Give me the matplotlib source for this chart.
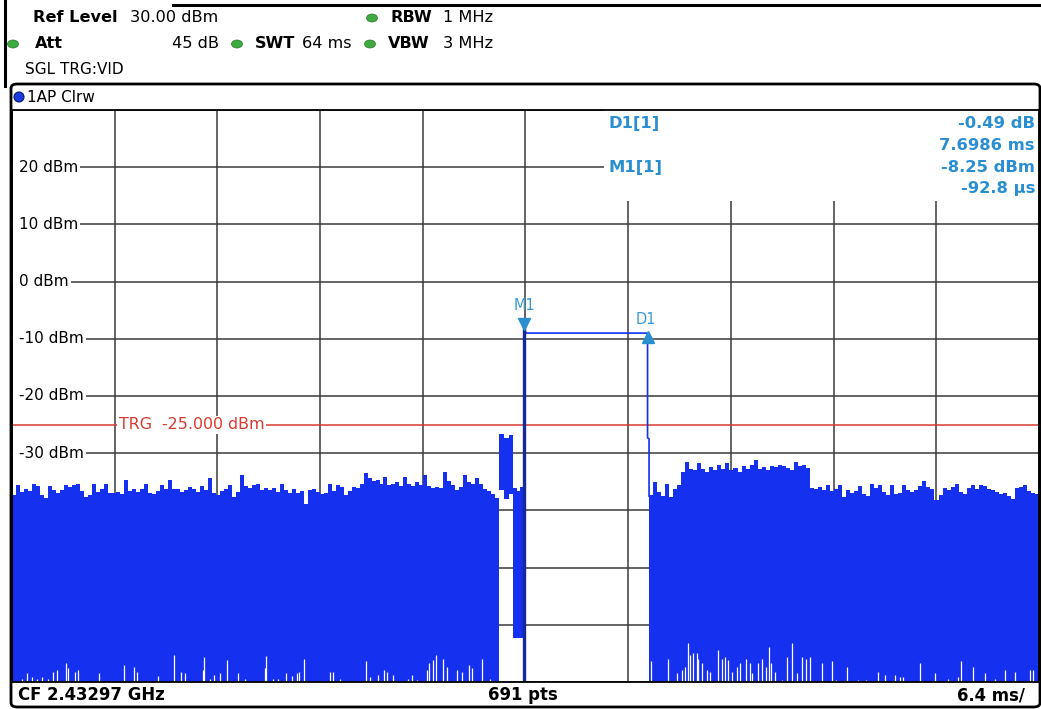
import numpy as np
import matplotlib.pyplot as plt
from matplotlib.patches import Rectangle, FancyBboxPatch, Ellipse
from matplotlib.lines import Line2D

W, H = 1041, 709

# ---- instrument settings ----
ref_level = 30.0          # dBm (top of screen)
db_per_div = 10
y_divs = 10
sweep_ms = 64.0
ms_per_div = 6.4
trg_level = -25.0

# ---- trace (peak envelope, dBm) ----
left_start, left_end = -32.0, -1.63
left_top = [
    -37.3, -35.5, -36.7, -36.2, -36.6, -35.3, -35.8, -37.3, -37.9, -35.8,
    -36.4, -36.9, -36.4, -35.6, -35.9, -35.5, -35.3, -36.6, -37.6, -37.3,
    -35.3, -36.7, -36.2, -35.4, -36.9, -37.0, -36.7, -37.1, -34.7, -36.6,
    -36.2, -36.8, -36.3, -35.3, -36.9, -37.1, -36.6, -35.5, -36.2, -34.7,
    -36.2, -36.3, -36.7, -36.5, -35.9, -36.2, -36.7, -35.8, -36.4, -34.4,
    -37.0, -37.3, -36.6, -36.2, -35.5, -37.6, -36.8, -33.8, -35.8, -36.1,
    -35.6, -35.3, -36.4, -36.1, -36.5,
    -36.1, -36.7, -35.3, -36.5, -36.9, -36.3, -37.0, -36.6, -38.8, -36.4,
    -36.3, -36.8, -37.2, -37.0, -35.3, -36.6, -35.5, -35.9, -37.3, -36.6,
    -35.9, -36.1, -35.4, -33.5, -34.4, -34.9, -34.6, -35.4, -34.1, -35.6,
    -35.3, -35.0, -35.7, -34.1, -35.3, -35.8, -35.0, -35.6, -33.8, -35.7,
    -36.1, -35.9, -36.0, -33.2, -34.8, -35.5, -36.4, -35.9, -33.8, -35.0,
    -35.3, -34.4, -35.4, -36.3, -36.6, -37.2, -37.9,
]

burst_start, burst_end = -1.63, -0.76
burst_top = [-26.6, -27.3, -26.9]
burst_bot = [-36.5, -38.0, -37.2]

post_start, post_end = -0.76, -0.093
post_top = [-36.0, -36.6, -35.9]
post_bot = [-62.3, -62.3, -62.3]

pulse_t = [-0.093, -0.093, 0.05, 7.606, 7.606, 7.70, 7.70]
pulse_db = [-72.0, -8.25, -9.0, -9.0, -27.3, -27.5, -37.5]

right_start, right_end = 7.70, 32.0
right_top = [
    -37.3, -35.0, -36.8, -37.4, -35.3, -37.6, -36.2, -35.6, -33.3, -31.5,
    -32.8, -33.0, -31.8, -32.8, -33.2, -32.5, -33.0, -32.1, -32.8, -31.8,
    -33.0, -32.6, -33.3, -32.3, -32.8, -32.0, -31.2, -32.7, -32.4, -32.9,
    -32.2, -32.5, -32.0, -32.3, -32.6, -32.9, -31.5, -32.3, -32.1, -32.6,
    -36.1, -36.3, -35.9, -36.4, -35.5, -36.6, -36.2, -35.6, -37.6, -36.5,
    -37.0, -36.6, -35.8, -37.2, -37.5, -35.3, -36.1, -35.6, -36.8, -37.3,
    -35.5, -37.1, -36.9, -35.6, -36.5, -36.7, -36.4, -35.8, -34.9, -35.9,
    -36.2, -38.2, -37.3, -36.0, -36.4, -35.9, -35.3, -36.8, -37.2, -36.1,
    -35.5, -36.2, -35.6, -35.8, -36.3, -36.5, -36.8, -37.2, -36.9, -37.5,
    -38.0, -36.1, -35.9, -35.5, -36.6, -37.0, -37.1,
]
floor_db = -72.0

# trace minimum lifting off the floor (ms, dBm)
dip_t = [
    -31.40, -31.08, -30.77, -30.46, -30.15, -29.74, -29.43, -29.22, -28.64, -28.49,
    -28.07, -27.87, -26.56, -25.00, -24.40, -24.23, -22.92, -21.89, -21.49, -21.22,
    -20.12, -20.04, -19.66, -19.41, -19.04, -18.62, -17.90, -17.48, -16.24, -16.17,
    -15.72, -15.41, -14.93, -14.57, -14.26, -14.10, -13.81, -12.19, -12.02, -11.56,
    -9.94, -9.69, -9.17, -8.82, -8.65, -8.24, -7.31, -7.10, -6.78, -6.16,
    -6.00, -5.79, -5.58, -5.13, -4.92, -4.29, -3.98, -3.51, -3.36, -2.74, -2.22,
    7.81, 8.89, 9.41, 9.73, 9.93, 10.14, 10.24, 10.45, 10.66, 10.76,
    10.97, 11.28, 11.49, 12.01, 12.22, 12.42, 12.63, 12.84, 13.15, 13.36,
    13.77, 13.98, 14.09, 14.50, 14.71, 14.96, 15.16, 15.33, 15.54, 15.96,
    16.27, 16.58, 16.89, 17.20, 17.51, 17.72, 18.45, 19.07, 19.38, 20.01,
    20.73, 21.25, 21.98, 22.39, 23.02, 23.33, 23.53, 24.57, 25.51, 26.34,
    26.96, 27.17, 27.90, 28.62, 29.25, 29.87, 30.49, 31.43, 31.63,
]
dip_db = [
    -69.5, -68.5, -69.1, -69.4, -69.1, -69.5, -68.2, -67.9, -66.7, -67.6,
    -68.2, -67.9, -68.5, -67.0, -67.3, -68.2, -68.9, -65.3, -68.2, -68.5,
    -67.9, -65.6, -69.4, -68.8, -68.5, -66.2, -68.5, -69.5, -67.6, -65.5,
    -69.5, -69.4, -68.4, -69.0, -68.5, -68.2, -65.9, -68.2, -68.2, -69.4,
    -66.4, -69.1, -68.8, -67.9, -68.2, -68.8, -69.4, -68.8, -69.7, -67.9,
    -66.7, -66.2, -65.3, -65.9, -67.3, -67.9, -68.2, -67.0, -67.6, -65.9, -69.5,
    -66.4, -65.9, -68.5, -67.9, -67.3, -63.2, -65.3, -65.0, -65.0, -65.9,
    -66.7, -67.9, -68.2, -64.4, -65.9, -65.6, -66.2, -68.2, -67.3, -66.7,
    -65.9, -66.7, -68.5, -66.7, -65.9, -67.3, -63.8, -66.7, -68.2, -69.6,
    -65.6, -63.2, -68.5, -65.6, -65.9, -65.6, -66.7, -66.4, -69.6, -67.3,
    -69.6, -69.6, -68.2, -68.8, -68.8, -69.1, -69.1, -66.7, -68.4, -69.4,
    -69.1, -66.4, -67.3, -68.5, -69.4, -67.9, -68.2, -67.9, -67.9,
]

# ---- markers ----
m1_t, m1_db = -0.0928, -8.25
d1_dt, d1_ddb = 7.6986, -0.49
y_labels = [20, 10, 0, -10, -20, -30]

TRACE = "#1530ee"
MKR = "#2a8fd2"
GRID = "#3a3a3a"
GREEN = "#3faa3f"

plt.rcParams["font.family"] = ["DejaVu Sans"]


def fx(x):
    return x / W


def fy(y):
    return 1 - y / H


def edges(start, end, n):
    return np.linspace(start, end, n + 1)


fig = plt.figure(figsize=(W / 100, H / 100), dpi=100)
fig.patch.set_facecolor("white")

bottom_db = ref_level - db_per_div * y_divs
ax = fig.add_axes([fx(12), fy(682), 1027 / W, 572 / H])
ax.set_xlim(-sweep_ms / 2, sweep_ms / 2)
ax.set_ylim(bottom_db, ref_level)
ax.set_xticks(np.arange(-sweep_ms / 2, sweep_ms / 2 + 0.01, ms_per_div))
ax.set_yticks(np.arange(bottom_db, ref_level + 0.1, db_per_div))
ax.tick_params(length=0, labelbottom=False, labelleft=False)
ax.set_axisbelow(True)
ax.grid(color=GRID, lw=1.1)
for s in ax.spines.values():
    s.set_color("black")
    s.set_linewidth(1.3)

# white panel behind marker readout
ax.add_patch(Rectangle((4.88, 14.1), 32 - 4.88, ref_level - 14.1,
                       facecolor="white", edgecolor="none", zorder=1))

# level labels (grid line resumes right after the text)
for lv in y_labels:
    ax.add_patch(Rectangle((-32, lv - 0.5), 0.5, 1.0, fc="white", ec="none", zorder=1.1))
    ax.text(-31.55, lv, f"{lv} dBm", fontsize=11, va="center", ha="left",
            zorder=1.2, bbox=dict(boxstyle="square,pad=0.12", fc="white", ec="none"))

# trigger line
ax.axhline(trg_level, color="#d83a30", lw=1.1, zorder=1.3)
ax.text(-25.35, trg_level, "TRG  -25.000 dBm", color="#d83a30", fontsize=11.4,
        va="center", ha="left", zorder=1.4,
        bbox=dict(boxstyle="square,pad=0.1", fc="white", ec="none"))

# trace fills
ax.stairs(left_top, edges(left_start, left_end, len(left_top)),
          baseline=floor_db, fill=True, color=TRACE, lw=0, zorder=2)
ax.stairs(right_top, edges(right_start, right_end, len(right_top)),
          baseline=floor_db, fill=True, color=TRACE, lw=0, zorder=2)
ax.stairs(burst_top, edges(burst_start, burst_end, len(burst_top)),
          baseline=burst_bot, fill=True, color=TRACE, lw=0, zorder=2)
ax.stairs(post_top, edges(post_start, post_end, len(post_top)),
          baseline=post_bot, fill=True, color=TRACE, lw=0, zorder=2)
ax.vlines(dip_t, floor_db, dip_db, color="white", lw=0.9, zorder=2.1)

ax.plot(pulse_t, pulse_db, color=TRACE, lw=1.2, zorder=2.2)
ax.plot(pulse_t[:2], pulse_db[:2], color="#15299a", lw=2.4, zorder=2.3)

# markers
d1_t, d1_db = m1_t + d1_dt, m1_db + d1_ddb
ax.plot([m1_t], [m1_db + 0.9], marker="v", ms=9, color=MKR, mec=MKR, zorder=3)
ax.plot([d1_t], [d1_db - 0.9], marker="^", ms=9, color=MKR, mec=MKR, zorder=3)
ax.text(m1_t, m1_db + 4.0, "M1", color="#3a9ad6", fontsize=10.5, ha="center", va="center", zorder=3)
ax.text(d1_t - 0.1, d1_db + 2.1, "D1", color="#3a9ad6", fontsize=10.5, ha="center", va="center", zorder=3)

# marker readout
ro = dict(color=MKR, fontsize=11.8, fontweight="bold", zorder=3)
ax.text(5.2, 27.6, "D1[1]", va="center", ha="left", **ro)
ax.text(5.2, 20.0, "M1[1]", va="center", ha="left", **ro)
ax.text(31.75, 27.6, f"{d1_ddb:.2f} dB", va="center", ha="right", **ro)
ax.text(31.75, 23.8, f"{d1_dt:.4f} ms", va="center", ha="right", **ro)
ax.text(31.75, 20.0, f"{m1_db:.2f} dBm", va="center", ha="right", **ro)
ax.text(31.75, 16.2, f"{m1_t * 1000:.1f} µs", va="center", ha="right", **ro)

# ---- frame ----
fig.add_artist(Line2D([fx(173), fx(1041)], [fy(5), fy(5)], color="black", lw=2.2))
fig.add_artist(Line2D([fx(5), fx(5)], [fy(0), fy(86)], color="black", lw=2.2))
fig.add_artist(FancyBboxPatch((fx(11), fy(707)), (1029 / W), (623 / H),
                              boxstyle="round,pad=0,rounding_size=0.006",
                              transform=fig.transFigure, fill=False,
                              ec="black", lw=2.0))

# header
hdr = dict(fontsize=11.6, va="center", ha="left")
fig.text(fx(33), fy(18), "Ref Level", fontweight="bold", **hdr)
fig.text(fx(130), fy(18), "30.00 dBm", **hdr)
fig.text(fx(390), fy(18), "RBW", fontweight="bold", **hdr)
fig.text(fx(443), fy(18), "1 MHz", **hdr)
fig.text(fx(35), fy(44), "Att", fontweight="bold", **hdr)
fig.text(fx(219), fy(44), "45 dB", fontsize=11.6, va="center", ha="right")
fig.text(fx(255), fy(44), "SWT", fontweight="bold", **hdr)
fig.text(fx(302), fy(44), "64 ms", **hdr)
fig.text(fx(388), fy(44), "VBW", fontweight="bold", **hdr)
fig.text(fx(443), fy(44), "3 MHz", **hdr)
fig.text(fx(25), fy(70), "SGL TRG:VID", fontsize=11, va="center", ha="left")
for (px, py) in [(372, 18), (13, 44), (237, 44), (370, 44)]:
    fig.add_artist(Ellipse((fx(px), fy(py)), 11 / W, 8 / H, transform=fig.transFigure,
                           fc=GREEN, ec="#2a7a2a", lw=0.5))

fig.add_artist(Ellipse((fx(19), fy(97)), 10 / W, 10 / H, transform=fig.transFigure,
                       fc="#1a3ae0", ec="#0a1a70", lw=0.8))
fig.text(fx(27), fy(97), "1AP Clrw", fontsize=11, va="center", ha="left")

# footer
ft = dict(fontsize=11.9, fontweight="bold", va="center")
fig.text(fx(18), fy(695), "CF 2.43297 GHz", ha="left", **ft)
fig.text(fx(488), fy(695), "691 pts", ha="left", **ft)
fig.text(fx(1025), fy(695), f"{ms_per_div} ms/", ha="right", **ft)

fig.savefig("out.png", dpi=100, facecolor="white")
